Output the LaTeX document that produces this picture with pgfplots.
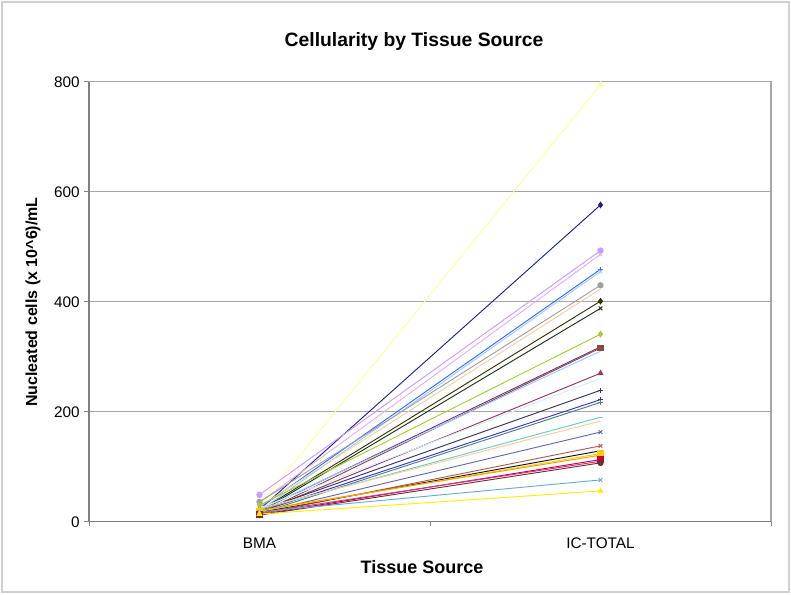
\documentclass[border=0pt]{standalone}
\usepackage{fontspec}
\setmainfont{Liberation Sans}
\usepackage{pgfplots}
\pgfplotsset{compat=1.18}

\definecolor{gridgray}{HTML}{A6A6A6}
\definecolor{axgray}{HTML}{808080}
\definecolor{framegray}{HTML}{D0D0D0}

\definecolor{s01}{HTML}{FFFF99}
\definecolor{s02}{HTML}{1F1F8F}
\definecolor{s03}{HTML}{CC99FF}
\definecolor{s04}{HTML}{E0B0F0}
\definecolor{s05}{HTML}{3366FF}
\definecolor{s06}{HTML}{99CCFF}
\definecolor{s07}{HTML}{A0A0A0}
\definecolor{s08}{HTML}{F0D0A0}
\definecolor{s09}{HTML}{333300}
\definecolor{s10}{HTML}{1A331A}
\definecolor{s11}{HTML}{A6CC33}
\definecolor{s12}{HTML}{663399}
\definecolor{s13}{HTML}{8B4A3A}
\definecolor{s14}{HTML}{99CCFF}
\definecolor{s15}{HTML}{993366}
\definecolor{s16}{HTML}{CCF0FF}
\definecolor{s17}{HTML}{333366}
\definecolor{s18}{HTML}{3333CC}
\definecolor{s19}{HTML}{4D8080}
\definecolor{s20}{HTML}{66CCCC}
\definecolor{s21}{HTML}{FFCC99}
\definecolor{s22}{HTML}{6666AA}
\definecolor{s23}{HTML}{B35959}
\definecolor{s24}{HTML}{001A00}
\definecolor{s25}{HTML}{FFCC00}
\definecolor{s26}{HTML}{FF9900}
\definecolor{s27}{HTML}{CC0033}
\definecolor{s28}{HTML}{CC3399}
\definecolor{s29}{HTML}{663333}
\definecolor{s30}{HTML}{66AADD}
\definecolor{s31}{HTML}{FFEE00}

\pgfplotsset{
  ser/.style={line width=0.7pt, mark size=2pt, color=#1, mark options={solid, fill=#1}},
}

\begin{document}
\begin{tikzpicture}
% page = 791 x 594 px at 0.75pt per px, axis box at px (89..771, 81.7..521.7)
\useasboundingbox (-66.75pt,-54.2pt) rectangle (526.5pt,391.3pt);
\draw[framegray, line width=0.8pt] (-65.25pt,-52.7pt) rectangle (525pt,389.8pt);

\begin{axis}[
  scale only axis, width=511.5pt, height=330pt,
  at={(0,0)}, anchor=south west,
  xmin=0, xmax=2, ymin=0, ymax=800,
  xtick={0.5,1.5}, xticklabels={BMA,IC-TOTAL},
  major x tick style={draw=none},
  minor xtick={0,1,2},
  ytick={0,200,400,600,800},
  xtick pos=bottom, ytick pos=left,
  tick align=outside, major tick length=3.5pt, minor tick length=3.5pt,
  tick style={axgray, line width=0.6pt},
  ymajorgrids, grid style={gridgray, line width=0.7pt},
  axis line style={gridgray, line width=1pt},
  ticklabel style={font=\fontsize{11.5}{13}\selectfont},
  xticklabel style={yshift=-5pt},
  /pgf/number format/assume math mode=true,
  clip=false,
]
\addplot[ser=s01, mark=triangle*] coordinates {(0.5,30)(1.5,795)};
\addplot[ser=s02, mark=diamond*] coordinates {(0.5,22)(1.5,576)};
\addplot[ser=s03, mark=*] coordinates {(0.5,49)(1.5,493)};
\addplot[ser=s04, mark=x] coordinates {(0.5,35)(1.5,486)};
\addplot[ser=s05, mark=+] coordinates {(0.5,25)(1.5,459)};
\addplot[ser=s06, mark=x] coordinates {(0.5,20)(1.5,455)};
\addplot[ser=s07, mark=*] coordinates {(0.5,36)(1.5,430)};
\addplot[ser=s08] coordinates {(0.5,28)(1.5,423)};
\addplot[ser=s09, mark=diamond*] coordinates {(0.5,20)(1.5,401)};
\addplot[ser=s10, mark=x] coordinates {(0.5,18)(1.5,388)};
\addplot[ser=s11, mark=diamond*] coordinates {(0.5,30)(1.5,341)};
\addplot[ser=s12] coordinates {(0.5,20)(1.5,318)};
\addplot[ser=s13, mark=square*] coordinates {(0.5,15)(1.5,316)};
\addplot[ser=s14] coordinates {(0.5,22)(1.5,310)};
\addplot[ser=s15, mark=triangle*] coordinates {(0.5,17)(1.5,270)};
\addplot[ser=s16] coordinates {(0.5,25)(1.5,261)};
\addplot[ser=s17, mark=+] coordinates {(0.5,20)(1.5,239)};
\addplot[ser=s18, mark=+] coordinates {(0.5,18)(1.5,222)};
\addplot[ser=s19, mark=+] coordinates {(0.5,15)(1.5,217)};
\addplot[ser=s20, mark=-] coordinates {(0.5,22)(1.5,190)};
\addplot[ser=s21] coordinates {(0.5,24)(1.5,183)};
\addplot[ser=s22, mark=x] coordinates {(0.5,16)(1.5,163)};
\addplot[ser=s23, mark=x] coordinates {(0.5,14)(1.5,138)};
\addplot[ser=s24] coordinates {(0.5,17)(1.5,129)};
\addplot[ser=s25, mark=square*] coordinates {(0.5,19)(1.5,124)};
\addplot[ser=s26] coordinates {(0.5,21)(1.5,121)};
\addplot[ser=s27, mark=square*] coordinates {(0.5,13)(1.5,113)};
\addplot[ser=s28] coordinates {(0.5,16)(1.5,110)};
\addplot[ser=s29, mark=*] coordinates {(0.5,12)(1.5,107)};
\addplot[ser=s30, mark=x] coordinates {(0.5,18)(1.5,76)};
\addplot[ser=s31, mark=triangle*] coordinates {(0.5,14)(1.5,56)};
% darker left and bottom axis lines
\draw[axgray, line width=1pt] (axis cs:0,800) -- (axis cs:0,0) -- (axis cs:2,0);
\end{axis}

\node[font=\bfseries\fontsize{14.5}{16}\selectfont] at (243.75pt,359.8pt) {Cellularity by Tissue Source};
\node[font=\bfseries\fontsize{13.5}{15}\selectfont] at (249.75pt,-34pt) {Tissue Source};
\node[font=\bfseries\fontsize{12}{14}\selectfont, rotate=90] at (-42pt,164.8pt) {Nucleated cells (x 10\^{}6)/mL};
\end{tikzpicture}
\end{document}
